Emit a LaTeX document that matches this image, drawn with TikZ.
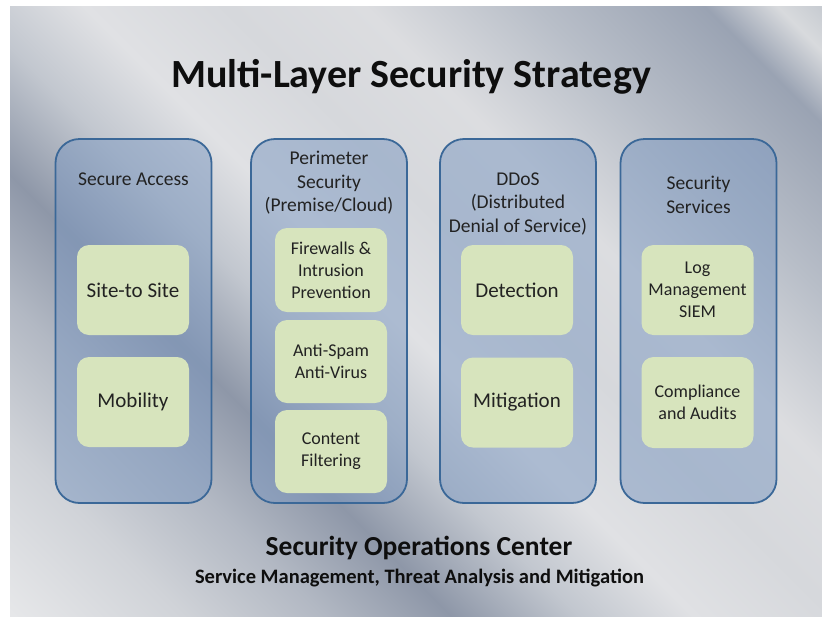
\documentclass[tikz,border=0pt]{standalone}
\usepackage{fontspec}
\setmainfont{Carlito}
\definecolor{m0}{HTML}{E6E7E9}
\definecolor{m1}{HTML}{D0D3D8}
\definecolor{m2}{HTML}{B2B8C3}
\definecolor{m3}{HTML}{8E97A8}
\definecolor{m4}{HTML}{C2C7CF}
\definecolor{m5}{HTML}{E0E1E4}
\definecolor{m6}{HTML}{D6D8DC}
\definecolor{m7}{HTML}{DCDDE0}
\definecolor{m8}{HTML}{B8BEC8}
\definecolor{m9}{HTML}{9AA3B3}
\definecolor{m10}{HTML}{D8DADD}
\definecolor{m11}{HTML}{C8CCD2}
\definecolor{boxline}{HTML}{3B6898}
\definecolor{boxfill}{HTML}{7A97C0}
\definecolor{ingreen}{HTML}{D7E4BD}
\definecolor{txt}{HTML}{222222}
\definecolor{ttl}{HTML}{0E0E0E}
\pgfdeclarehorizontalshading{metal}{100bp}{color(0bp)=(m0); color(14.6bp)=(m0); color(23.1bp)=(m1); color(30.2bp)=(m2); color(36.5bp)=(m3); color(42.9bp)=(m4); color(48.6bp)=(m5); color(55.7bp)=(m6); color(62.7bp)=(m7); color(71.2bp)=(m8); color(79.7bp)=(m9); color(83.3bp)=(m10); color(85.4bp)=(m11); color(100bp)=(m11)}
\begin{document}
\begin{tikzpicture}[x=1pt,y=-1pt,
  outerbox/.style={draw=boxline, line width=1.8pt, fill=boxfill, fill opacity=0.5, draw opacity=1,
    rounded corners=24pt, minimum width=156pt, minimum height=364pt, inner sep=0pt},
  innerbox/.style={fill=ingreen, rounded corners=12pt, minimum width=112pt, inner sep=0pt,
    text=txt, align=center},
  bigin/.style={innerbox, font=\fontsize{21}{25}\selectfont},
  smallin/.style={innerbox, font=\fontsize{18}{22}\selectfont},
  head/.style={text=txt, align=center, inner sep=0pt, font=\fontsize{19.5}{23.5}\selectfont}]
\useasboundingbox (0,0) rectangle (822,619);
\fill[white] (0,0) rectangle (822,619);
\shade[shading=metal, shading angle=45] (10,6) rectangle (822,616);

\node[anchor=base, text=ttl, font=\bfseries\fontsize{40}{48}\selectfont, inner sep=0pt] (title) at (411,87) {Multi-Layer Security Strategy};

\node[outerbox] (c1) at (133.5,321) {};
\node[outerbox] (c2) at (329,321) {};
\node[outerbox] (c3) at (518,321) {};
\node[outerbox] (c4) at (698.5,321) {};

\node[head] (h1) at (133.5,179) {Secure Access};
\node[head] (h2) at (329,183) {Perimeter\\Security\\(Premise/Cloud)};
\node[head] (h3) at (518,204) {DDoS\\(Distributed\\Denial of Service)};
\node[head] (h4) at (698.5,195) {Security\\Services};

\node[bigin, minimum height=90pt] (s2s) at (133,290) {Site-to Site};
\node[bigin, minimum height=90pt] (mob) at (133,402) {Mobility};

\node[smallin, minimum height=84pt] (fw) at (331,270) {Firewalls \&\\Intrusion\\Prevention};
\node[smallin, minimum height=83pt] (spam) at (331,361.5) {Anti-Spam\\Anti-Virus};
\node[smallin, minimum height=83pt] (cf) at (331,451.5) {Content\\Filtering};

\node[bigin, minimum height=90pt] (det) at (517,290) {Detection};
\node[bigin, minimum height=90pt] (mit) at (517,402.5) {Mitigation};

\node[smallin, minimum height=90pt] (log) at (697.5,290) {Log\\Management\\SIEM};
\node[smallin, minimum height=91pt] (comp) at (697.5,402.5) {Compliance\\and Audits};

\node[anchor=base, text=ttl, font=\bfseries\fontsize{27.5}{32}\selectfont, inner sep=0pt] (soc) at (419,555) {Security Operations Center};
\node[anchor=base, text=ttl, font=\bfseries\fontsize{20.5}{24}\selectfont, inner sep=0pt] (socsub) at (419.5,583) {Service Management, Threat Analysis and Mitigation};
\end{tikzpicture}
\end{document}
